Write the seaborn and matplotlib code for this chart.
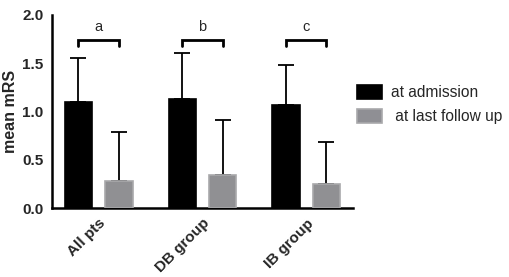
import matplotlib
matplotlib.use('Agg')
import matplotlib.pyplot as plt
import matplotlib.patches as mpatches
import seaborn as sns
import pandas as pd
import numpy as np

groups = ['All pts', 'DB group', 'IB group']
times = ['at admission', 'at last follow up']
mean_admission = [1.10, 1.13, 1.07]
mean_followup = [0.28, 0.34, 0.25]
sd_admission = [0.45, 0.48, 0.41]
sd_followup = [0.51, 0.57, 0.43]
sig_letters = ['a', 'b', 'c']
bracket_y = [1.74, 1.74, 1.74]

colors = {'at admission': '#000000', 'at last follow up': '#8f8f94'}
edges = {'at admission': '#000000', 'at last follow up': '#a9a9ab'}

df = pd.DataFrame({
    'group': groups * 2,
    'time': [times[0]] * 3 + [times[1]] * 3,
    'mRS': mean_admission + mean_followup,
    'sd': sd_admission + sd_followup,
})

sns.set_style('white')
plt.rcParams['font.family'] = ['Liberation Sans', 'DejaVu Sans']

fig = plt.figure(figsize=(5.1, 2.77), dpi=100)
ax = fig.add_axes([0.102, 0.249, 0.590, 0.697])

sns.barplot(data=df, x='group', y='mRS', hue='time', order=groups, hue_order=times,
            palette=colors, width=0.78, gap=0.33, errorbar=None, legend=False, ax=ax,
            zorder=3)

# edge colours and one-sided error bars from the drawn patches
bars = [p for p in ax.patches if p.get_height() > 0]
for i, t in enumerate(times):
    sub = df[df.time == t]
    for j, g in enumerate(groups):
        p = bars[i * len(groups) + j]
        p.set_edgecolor(edges[t])
        p.set_linewidth(1.2)
        cx = p.get_x() + p.get_width() / 2
        sd = sub[sub.group == g].sd.values[0]
        ax.errorbar(cx, p.get_height(), yerr=[[0], [sd]], color='black', lw=1.3,
                    capsize=5.5, capthick=1.3, zorder=2)

# significance brackets
for j, g in enumerate(groups):
    p1 = bars[j]
    p2 = bars[len(groups) + j]
    x1 = p1.get_x() + p1.get_width() / 2
    x2 = p2.get_x() + p2.get_width() / 2
    y = bracket_y[j]
    ax.plot([x1, x1, x2, x2], [y - 0.06, y, y, y - 0.06], color='black', lw=2,
            solid_joinstyle='miter', clip_on=False)
    ax.text((x1 + x2) / 2, y + 0.06, sig_letters[j], ha='center', va='bottom', fontsize=10.5)

ax.set_xlim(-0.45, 2.45)
ax.set_ylim(0, 2.0)
ax.set_yticks([0, 0.5, 1.0, 1.5, 2.0])
ax.set_yticklabels(['0.0', '0.5', '1.0', '1.5', '2.0'])
ax.set_xlabel('')
ax.set_ylabel('mean mRS', fontsize=11.5, fontweight='bold', labelpad=3)
sns.despine(ax=ax)
for s in ['left', 'bottom']:
    ax.spines[s].set_linewidth(1.8)
    ax.spines[s].set_color('black')
ax.tick_params(axis='both', direction='out', length=5, width=1.8, color='black',
               labelsize=11, pad=1)
for lab in ax.get_yticklabels():
    lab.set_fontweight('bold')
for lab in ax.get_xticklabels():
    lab.set_fontweight('bold')
    lab.set_rotation(45)
    lab.set_ha('right')
    lab.set_rotation_mode('anchor')

handles = [mpatches.Patch(facecolor=colors[t], edgecolor=edges[t], linewidth=1.2) for t in times]
ax.legend(handles, ['at admission', ' at last follow up'], loc='upper left',
          bbox_to_anchor=(0.968, 0.71), frameon=False, fontsize=11.2,
          handlelength=1.6, handleheight=1.0, labelspacing=0.55, handletextpad=0.55)

fig.savefig('out.png', dpi=100)
